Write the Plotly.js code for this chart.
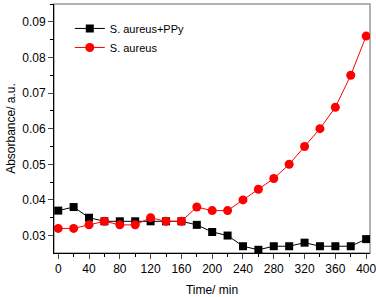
<!DOCTYPE html>
<html>
<head>
<meta charset="utf-8">
<script src="https://cdn.plot.ly/plotly-3.0.1.min.js"></script>
<style>html,body{margin:0;padding:0;background:#fff;}#chart{width:376px;height:297px;}</style>
</head>
<body>
<div id="chart"></div>
<script>
const timeMin = [0,20,40,60,80,100,120,140,160,180,200,220,240,260,280,300,320,340,360,380,400];
const ppyValues = [0.037,0.038,0.035,0.034,0.034,0.034,0.034,0.034,0.034,0.033,0.031,0.030,0.027,0.026,0.027,0.027,0.028,0.027,0.027,0.027,0.029];
const aureusValues = [0.032,0.032,0.033,0.034,0.033,0.033,0.035,0.034,0.034,0.038,0.037,0.037,0.040,0.043,0.046,0.050,0.055,0.060,0.066,0.075,0.086];
const seriesNames = ["S. aureus+PPy", "S. aureus"];
const xTicks = [0,40,80,120,160,200,240,280,320,360,400];
const yTicks = [0.03,0.04,0.05,0.06,0.07,0.08,0.09];

const traces = [
  {x: timeMin, y: ppyValues, name: seriesNames[0], mode: 'lines+markers',
   line: {color: '#000000', width: 1}, marker: {symbol: 'square', size: 8, color: '#000000'}},
  {x: timeMin, y: aureusValues, name: seriesNames[1], mode: 'lines+markers',
   line: {color: '#ff0000', width: 1}, marker: {symbol: 'circle', size: 9, color: '#ff0000'}}
];

const layout = {
  width: 376, height: 297,
  margin: {l: 54, r: 6, t: 4, b: 43.5},
  paper_bgcolor: '#fff', plot_bgcolor: '#fff',
  font: {family: 'Liberation Sans, Arial, sans-serif', size: 12, color: '#000'},
  showlegend: true,
  legend: {x: 0.05, y: 0.96, xanchor: 'left', yanchor: 'top', bgcolor: 'rgba(0,0,0,0)',
           font: {size: 11, color: '#000'}, tracegroupgap: 0, itemwidth: 30},
  xaxis: {range: [-5.5, 405], tickvals: xTicks, ticks: 'outside', ticklen: 5, tickwidth: 1,
          ticklabeloverflow: 'allow',
          showline: true, linecolor: '#000', linewidth: 1, showgrid: false, zeroline: false,
          minor: {dtick: 20, ticks: 'outside', ticklen: 3, tickcolor: '#000', showgrid: false},
          title: {text: 'Time/ min', font: {size: 12}, standoff: 13},
          tickfont: {size: 12}},
  yaxis: {range: [0.0251, 0.0950], tickvals: yTicks, tickformat: '.2f', ticks: 'outside', ticklen: 5, tickwidth: 1,
          showline: true, linecolor: '#000', linewidth: 1, showgrid: false, zeroline: false,
          minor: {dtick: 0.005, ticks: 'outside', ticklen: 3, tickcolor: '#000', showgrid: false},
          title: {text: 'Absorbance/ a.u.', font: {size: 12}, standoff: 4},
          tickfont: {size: 12}},
  shapes: [{type: 'rect', xref: 'paper', yref: 'paper', x0: 0, x1: 1, y0: 0, y1: 1,
            line: {color: '#999', width: 1.5}, layer: 'below'}]
};

Plotly.newPlot('chart', traces, layout, {displayModeBar: false, staticPlot: true});
</script>
</body>
</html>
